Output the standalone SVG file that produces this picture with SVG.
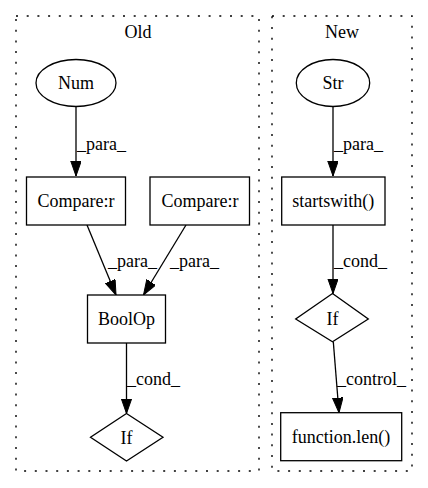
<svg xmlns="http://www.w3.org/2000/svg" width="428" height="488" viewBox="0 0 428 488" font-family="'Liberation Serif', 'DejaVu Serif', serif">
  <style>
    text { font-family: 'Liberation Serif', 'DejaVu Serif', 'Times New Roman', serif; font-size: 18px; fill: #000; }
    .node text, .cluster text { text-anchor: middle; }
    .shape { fill: #fff; stroke: #000; stroke-width: 1.3; }
    .cluster rect { fill: none; stroke: #000; stroke-width: 1.4; stroke-dasharray: 2 8.7; }
    .edge { fill: none; stroke: #000; stroke-width: 1.3; marker-end: url(#arrow); }
  </style>
  <defs>
    <marker id="arrow" markerUnits="userSpaceOnUse" markerWidth="16" markerHeight="12" refX="15" refY="5.25" orient="auto">
      <path d="M0,0 L15,5.25 L0,10.5 Z" fill="#000" stroke="#000" stroke-width="1"/>
    </marker>
  </defs>

  <!-- subgraph frames -->
  <g id="cluster_old" class="cluster">
    <rect x="16" y="16" width="243" height="455"/>
    <text x="138" y="38">Old</text>
  </g>
  <g id="cluster_new" class="cluster">
    <rect x="272" y="16" width="140" height="455"/>
    <text x="342" y="38">New</text>
  </g>

  <!-- connectors -->
  <g id="edges">
    <line class="edge" x1="76" y1="107" x2="76" y2="176"/>
    <text x="77" y="150">_para_</text>

    <line class="edge" x1="87" y1="225" x2="116" y2="295"/>
    <text x="108" y="267">_para_</text>

    <line class="edge" x1="186" y1="225" x2="143.5" y2="295"/>
    <text x="170" y="267">_para_</text>

    <line class="edge" x1="126.5" y1="343" x2="126.5" y2="413.5"/>
    <text x="127" y="385">_cond_</text>

    <line class="edge" x1="333" y1="107" x2="333" y2="176"/>
    <text x="334" y="150">_para_</text>

    <line class="edge" x1="333" y1="225" x2="333" y2="293.5"/>
    <text x="334" y="267">_cond_</text>

    <line class="edge" x1="333.3" y1="341.7" x2="339" y2="412.7"/>
    <text x="337" y="385">_control_</text>
  </g>

  <!-- Old -->
  <g id="node_num" class="node">
    <ellipse class="shape" cx="76" cy="83" rx="40" ry="23.5"/>
    <text x="76" y="89">Num</text>
  </g>
  <g id="node_compare_1" class="node">
    <rect class="shape" x="26.5" y="177" width="99" height="48"/>
    <text x="76" y="207">Compare:r</text>
  </g>
  <g id="node_compare_2" class="node">
    <rect class="shape" x="150" y="177" width="99.5" height="48"/>
    <text x="200" y="207">Compare:r</text>
  </g>
  <g id="node_boolop" class="node">
    <rect class="shape" x="87.5" y="295" width="78" height="48"/>
    <text x="126.5" y="325">BoolOp</text>
  </g>
  <g id="node_if_old" class="node">
    <polygon class="shape" points="126.5,413.5 163,437.3 126.5,461 90.5,437.3"/>
    <text x="126.5" y="443.5">If</text>
  </g>

  <!-- New -->
  <g id="node_str" class="node">
    <ellipse class="shape" cx="333" cy="83" rx="36.7" ry="23.5"/>
    <text x="333" y="89">Str</text>
  </g>
  <g id="node_startswith" class="node">
    <rect class="shape" x="281.7" y="177" width="103.3" height="48"/>
    <text x="333.3" y="207">startswith()</text>
  </g>
  <g id="node_if_new" class="node">
    <polygon class="shape" points="332.5,293.5 368.3,319 332.5,341.7 295.7,319"/>
    <text x="332.5" y="325">If</text>
  </g>
  <g id="node_len" class="node">
    <rect class="shape" x="280.7" y="412.7" width="121" height="48"/>
    <text x="341" y="443">function.len()</text>
  </g>
</svg>
